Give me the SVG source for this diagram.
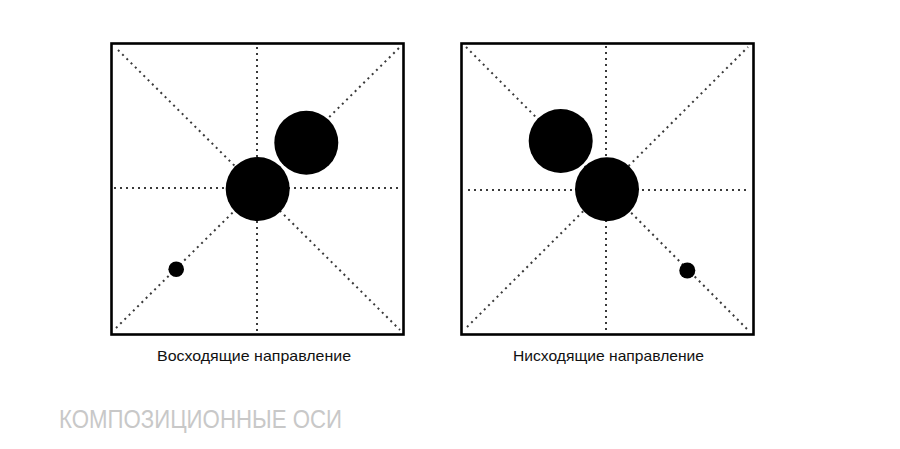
<svg xmlns="http://www.w3.org/2000/svg" width="900" height="449" viewBox="0 0 900 449">
<style>
.frame{fill:none;stroke:#000;stroke-width:2.6}
.axis{stroke:#3a3a3a;stroke-width:2;stroke-dasharray:2 4;fill:none}
.dot{fill:#000}
.label{font-family:"Liberation Sans",Arial,sans-serif;font-size:14.5px;fill:#111;text-anchor:middle}
.title{font-family:"Liberation Sans",Arial,sans-serif;font-size:25px;fill:#c8c8c8}
</style>
<rect width="900" height="449" fill="#fff"/>
<g id="connectors">
<g id="axes-left">
<line class="axis" x1="257" y1="47" x2="257" y2="333"/>
<line class="axis" x1="114" y1="188" x2="401" y2="188"/>
<line class="axis" x1="118" y1="50" x2="400" y2="330"/>
<line class="axis" x1="116" y1="328" x2="400" y2="47"/>
</g>
<g id="axes-right">
<line class="axis" x1="606" y1="46" x2="606" y2="333"/>
<line class="axis" x1="468" y1="190" x2="750" y2="190"/>
<line class="axis" x1="466" y1="47" x2="748" y2="330"/>
<line class="axis" x1="467" y1="327" x2="748" y2="47"/>
</g>
</g>
<g id="left-panel">
<rect class="frame" x="111.5" y="43.5" width="292" height="291"/>
<circle class="dot" cx="257.7" cy="189" r="32"/>
<circle class="dot" cx="306.3" cy="142.7" r="32"/>
<circle class="dot" cx="176.2" cy="269.3" r="7.8"/>
<text class="label" x="254" y="361" textLength="194" lengthAdjust="spacingAndGlyphs">Восходящие направление</text>
</g>
<g id="right-panel">
<rect class="frame" x="461.5" y="43.5" width="292" height="291"/>
<circle class="dot" cx="607" cy="189.3" r="32"/>
<circle class="dot" cx="560.7" cy="141" r="32"/>
<circle class="dot" cx="687.3" cy="270.5" r="8"/>
<text class="label" x="608.5" y="361" textLength="191" lengthAdjust="spacingAndGlyphs">Нисходящие направление</text>
</g>
<g id="title">
<text class="title" x="59" y="428" textLength="283" lengthAdjust="spacingAndGlyphs">КОМПОЗИЦИОННЫЕ ОСИ</text>
</g>
</svg>
